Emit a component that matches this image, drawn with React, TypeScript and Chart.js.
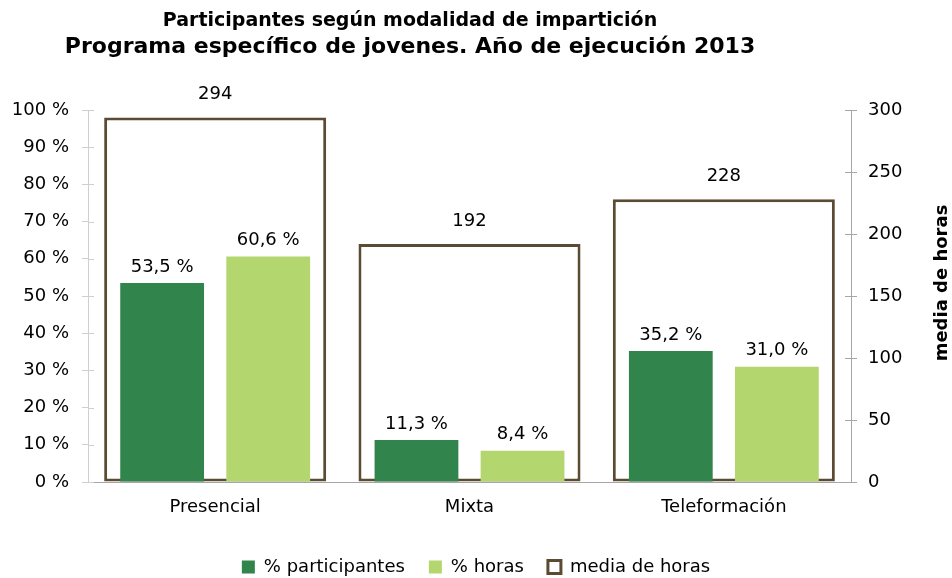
import { useEffect, useRef } from "react";
import { Chart, registerables } from "chart.js";

Chart.register(...registerables);

const categories = ["Presencial", "Mixta", "Teleformación"];
const participantes = [53.5, 11.3, 35.2];
const horas = [60.6, 8.4, 31.0];
const mediaHoras = [294, 192, 228];
const seriesNames = ["% participantes", "% horas", "media de horas"];
const titleLines = [
  "Participantes según modalidad de impartición",
  "Programa específico de jovenes. Año de ejecución 2013",
];
const rightAxisTitle = "media de horas";

const FONT = '"DejaVu Sans", Verdana, sans-serif';
const DARK = "#31844b";
const LIGHT = "#b3d66f";
const BROWN = "#5b4b33";

const fmtPct = (v: number) => v.toFixed(1).replace(".", ",") + " %";

const decorPlugin = {
  id: "decor",
  beforeUpdate(chart: any) {
    if (chart.legend && !chart.legend.__patched) {
      const orig = chart.legend.fit;
      chart.legend.fit = function () {
        orig.call(this);
        this.height = 44;
      };
      chart.legend.__patched = true;
    }
  },
  afterDatasetsDraw(chart: any) {
    const ctx = chart.ctx;
    ctx.save();
    ctx.fillStyle = "#000";
    ctx.textAlign = "center";
    ctx.textBaseline = "middle";
    ctx.font = `18px ${FONT}`;
    chart.data.datasets.forEach((ds: any, i: number) => {
      const meta = chart.getDatasetMeta(i);
      meta.data.forEach((el: any, j: number) => {
        const v = ds.data[j];
        if (i === 2) {
          ctx.fillText(String(v), el.x, el.y - 23);
        } else {
          ctx.fillText(fmtPct(v), el.x, el.y - 16);
        }
      });
    });
    ctx.restore();
  },
  afterDraw(chart: any) {
    const ctx = chart.ctx;
    const area = chart.chartArea;
    ctx.save();
    // inner halves of crossing tick marks
    const y = chart.scales.y;
    ctx.strokeStyle = "#cfcfcf";
    ctx.lineWidth = 1;
    y.ticks.forEach((t: any) => {
      const py = Math.round(y.getPixelForValue(t.value)) + 0.5;
      ctx.beginPath();
      ctx.moveTo(area.left, py);
      ctx.lineTo(area.left + 6, py);
      ctx.stroke();
    });
    const y2 = chart.scales.y2;
    ctx.strokeStyle = "#a6a6a6";
    y2.ticks.forEach((t: any) => {
      const py = Math.round(y2.getPixelForValue(t.value)) + 0.5;
      ctx.beginPath();
      ctx.moveTo(area.right - 6, py);
      ctx.lineTo(area.right, py);
      ctx.stroke();
    });
    // titles
    ctx.fillStyle = "#000";
    ctx.textAlign = "center";
    ctx.textBaseline = "middle";
    ctx.font = `bold 19px ${FONT}`;
    ctx.fillText(titleLines[0], 410, 21);
    ctx.font = `bold 22px ${FONT}`;
    ctx.fillText(titleLines[1], 410, 47);
    // right axis title (reads bottom to top)
    ctx.translate(942, 283);
    ctx.rotate(-Math.PI / 2);
    ctx.font = `bold 18px ${FONT}`;
    ctx.fillText(rightAxisTitle, 0, 0);
    ctx.restore();
  },
};

export default function App() {
  const ref = useRef<HTMLCanvasElement | null>(null);

  useEffect(() => {
    document.body.style.margin = "0";
    const canvas = ref.current;
    if (!canvas) return;
    const chart = new Chart(canvas, {
      type: "bar",
      data: {
        labels: categories,
        datasets: [
          {
            label: seriesNames[0],
            data: participantes,
            backgroundColor: DARK,
            borderWidth: 0,
            yAxisID: "y",
            categoryPercentage: 0.834,
            barPercentage: 0.79,
            order: 1,
          },
          {
            label: seriesNames[1],
            data: horas,
            backgroundColor: LIGHT,
            borderWidth: 0,
            yAxisID: "y",
            categoryPercentage: 0.834,
            barPercentage: 0.79,
            order: 1,
          },
          {
            label: seriesNames[2],
            data: mediaHoras,
            backgroundColor: "#ffffff",
            borderColor: BROWN,
            borderWidth: 3,
            borderSkipped: false,
            yAxisID: "y2",
            grouped: false,
            categoryPercentage: 0.873,
            barPercentage: 1,
            order: 2,
          },
        ] as any,
      },
      options: {
        animation: false,
        responsive: false,
        maintainAspectRatio: false,
        layout: { padding: { top: 110, left: 0, right: 0, bottom: 0 } },
        plugins: {
          legend: {
            position: "bottom",
            labels: {
              boxWidth: 13,
              boxHeight: 13,
              padding: 24,
              color: "#000",
              font: { family: FONT, size: 18 },
            },
          },
          tooltip: { enabled: false },
          title: { display: false },
        },
        scales: {
          x: {
            type: "category",
            offset: true,
            grid: { display: false, drawTicks: false },
            border: { display: true, color: "#a6a6a6", width: 1 },
            ticks: {
              color: "#000",
              padding: 15,
              font: { family: FONT, size: 18 },
            },
            afterFit(scale: any) {
              scale.height = 52;
            },
          },
          y: {
            position: "left",
            min: 0,
            max: 100,
            grid: {
              drawOnChartArea: false,
              tickLength: 6,
              color: "#cfcfcf",
            },
            border: { display: true, color: "#cfcfcf", width: 1 },
            ticks: {
              stepSize: 10,
              color: "#000",
              padding: 13,
              font: { family: FONT, size: 18 },
              callback: (v: any) => `${v} %`,
            },
            afterFit(scale: any) {
              scale.width = 88;
            },
          },
          y2: {
            position: "right",
            min: 0,
            max: 300,
            grid: {
              drawOnChartArea: false,
              tickLength: 6,
              color: "#a6a6a6",
            },
            border: { display: true, color: "#a6a6a6", width: 1 },
            ticks: {
              stepSize: 50,
              color: "#000",
              padding: 11,
              font: { family: FONT, size: 18 },
            },
            afterFit(scale: any) {
              scale.width = 101;
            },
          },
        },
      } as any,
      plugins: [decorPlugin as any],
    });
    return () => chart.destroy();
  }, []);

  return (
    <div style={{ width: 952, height: 578, background: "#fff" }}>
      <canvas ref={ref} width={952} height={578} style={{ display: "block" }} />
    </div>
  );
}
